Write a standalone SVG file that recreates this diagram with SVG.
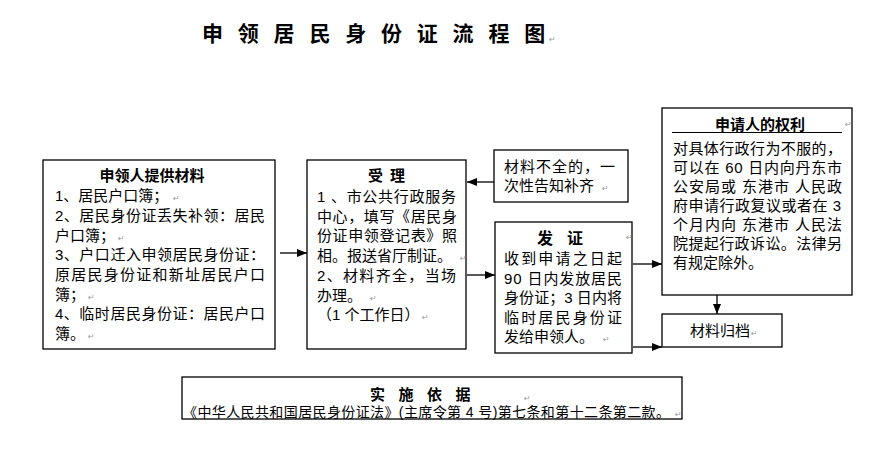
<svg xmlns="http://www.w3.org/2000/svg" width="880" height="456" viewBox="0 0 880 456">
<style>
  .box{fill:#fff;stroke:#000;stroke-width:1.3}
  .t{font-family:"Liberation Sans","Noto Sans CJK SC",sans-serif;font-size:15px;fill:#000}
  .b{font-family:"Noto Sans CJK SC",sans-serif;font-weight:bold;font-size:15px;fill:#000}
  .s{font-size:14px}
  .pm{font-family:"DejaVu Sans",sans-serif;font-size:8px;fill:#999}
  .ln{stroke:#000;stroke-width:1.3;fill:none}
</style>
<defs>
  <marker id="ah" viewBox="0 0 10 8" refX="10" refY="4" markerWidth="10" markerHeight="8" markerUnits="userSpaceOnUse" orient="auto">
    <path d="M0,0 L10,4 L0,8 Z" fill="#000"/>
  </marker>
</defs>
<rect width="880" height="456" fill="#fff"/>

<g id="title">
  <text class="b" x="202 237.8 273.6 309.4 345.2 381 416.8 452.6 488.4 524.2" y="41" style="font-size:21px">申领居民身份证流程图</text>
  <text class="pm" x="549" y="42">↵</text>
</g>

<g id="connectors">
  <line class="ln" x1="280" y1="253" x2="307" y2="253" marker-end="url(#ah)"/>
  <line class="ln" x1="494" y1="182" x2="467" y2="182" marker-end="url(#ah)"/>
  <line class="ln" x1="467" y1="275" x2="495" y2="275" marker-end="url(#ah)"/>
  <line class="ln" x1="633" y1="264" x2="662" y2="264" marker-end="url(#ah)"/>
  <line class="ln" x1="633" y1="347" x2="662" y2="347" marker-end="url(#ah)"/>
  <line class="ln" x1="717" y1="295" x2="717" y2="314" marker-end="url(#ah)"/>
</g>

<g id="materials">
  <rect class="box" x="43" y="160" width="232" height="189"/>
  <text class="b" x="152" y="181" text-anchor="middle">申领人提供材料</text>
  <text class="t" x="55" y="201">1、居民户口簿；</text><text class="pm" x="173" y="201">↵</text>
  <text class="t" x="55" y="220.8" textLength="210" lengthAdjust="spacing">2、居民身份证丢失补领：居民</text>
  <text class="t" x="55" y="240.5">户口簿；</text><text class="pm" x="118" y="240.5">↵</text>
  <text class="t" x="55" y="260" textLength="210" lengthAdjust="spacing">3、户口迁入申领居民身份证：</text>
  <text class="t" x="55" y="280" textLength="210" lengthAdjust="spacing">原居民身份证和新址居民户口</text>
  <text class="t" x="55" y="299.5">簿；</text><text class="pm" x="88" y="299.5">↵</text>
  <text class="t" x="55" y="319" textLength="210" lengthAdjust="spacing">4、临时居民身份证：居民户口</text>
  <text class="t" x="55" y="339">簿。</text><text class="pm" x="88" y="339">↵</text>
</g>

<g id="accept">
  <rect class="box" x="307" y="160" width="159" height="189"/>
  <text class="b" x="368 390" y="181">受理</text>
  <text class="t" x="317" y="202" textLength="139" lengthAdjust="spacing">1 、市公共行政服务</text>
  <text class="t" x="317" y="221.7" textLength="140" lengthAdjust="spacing">中心，填写《居民身</text>
  <text class="t" x="317" y="241.4" textLength="140" lengthAdjust="spacing">份证申领登记表》照</text>
  <text class="t" x="317" y="261">相。报送省厅制证。</text><text class="pm" x="460" y="261">↵</text>
  <text class="t" x="317" y="280.8" textLength="139" lengthAdjust="spacing">2、材料齐全，当场</text>
  <text class="t" x="317" y="300.5">办理。</text><text class="pm" x="370" y="300.5">↵</text>
  <text class="t" x="317" y="320">（1 个工作日）</text><text class="pm" x="422" y="320">↵</text>
</g>

<g id="incomplete">
  <rect class="box" x="494" y="150" width="134" height="52"/>
  <text class="t" x="504" y="172" textLength="111" lengthAdjust="spacing">材料不全的，一</text>
  <text class="t" x="504" y="191">次性告知补齐</text><text class="pm" x="602" y="191">↵</text>
</g>

<g id="issue">
  <rect class="box" x="495" y="222" width="137" height="131"/>
  <text class="b" x="537 567" y="244" style="font-size:16px">发证</text>
  <text class="pm" x="626" y="240">↵</text>
  <text class="t" x="504" y="264" textLength="118" lengthAdjust="spacing">收到申请之日起</text>
  <text class="t" x="504" y="283.5" textLength="118" lengthAdjust="spacing">90 日内发放居民</text>
  <text class="t" x="504" y="303" textLength="118" lengthAdjust="spacing">身份证；3 日内将</text>
  <text class="t" x="504" y="322.5" textLength="118" lengthAdjust="spacing">临时居民身份证</text>
  <text class="t" x="504" y="342">发给申领人。</text><text class="pm" x="603" y="342">↵</text>
</g>

<g id="rights">
  <rect class="box" x="662" y="108" width="190" height="187"/>
  <text class="b" x="760" y="130" text-anchor="middle">申请人的权利</text>
  <line x1="672" y1="132.5" x2="842" y2="132.5" stroke="#000" stroke-width="1.2"/>
  <text class="pm" x="845" y="127">↵</text>
  <text class="t" x="673" y="153.5" textLength="169" lengthAdjust="spacing">对具体行政行为不服的，</text>
  <text class="t" x="673" y="172.6" textLength="169" lengthAdjust="spacing">可以在 60 日内向丹东市</text>
  <text class="t" x="673" y="191.7" textLength="169" lengthAdjust="spacing">公安局或 东港市 人民政</text>
  <text class="t" x="673" y="210.8" textLength="168" lengthAdjust="spacing">府申请行政复议或者在 3</text>
  <text class="t" x="673" y="229.9" textLength="169" lengthAdjust="spacing">个月内向 东港市 人民法</text>
  <text class="t" x="673" y="249" textLength="169" lengthAdjust="spacing">院提起行政诉讼。法律另</text>
  <text class="t" x="673" y="268.1">有规定除外。</text>
</g>

<g id="archive">
  <rect class="box" x="662" y="314" width="120" height="33"/>
  <text class="t" x="690" y="335.5">材料归档</text><text class="pm" x="751" y="335.5">↵</text>
</g>

<g id="basis">
  <rect class="box" x="182" y="377" width="500" height="42"/>
  <text class="b" x="370 398.5 427 455.5" y="400">实施依据</text>
  <text class="pm" x="524" y="401">↵</text>
  <text class="t s" x="183" y="416.5" textLength="487" lengthAdjust="spacing">《中华人民共和国居民身份证法》(主席令第 4 号)第七条和第十二条第二款。</text>
  <text class="pm" x="675" y="416.5">↵</text>
</g>
</svg>
